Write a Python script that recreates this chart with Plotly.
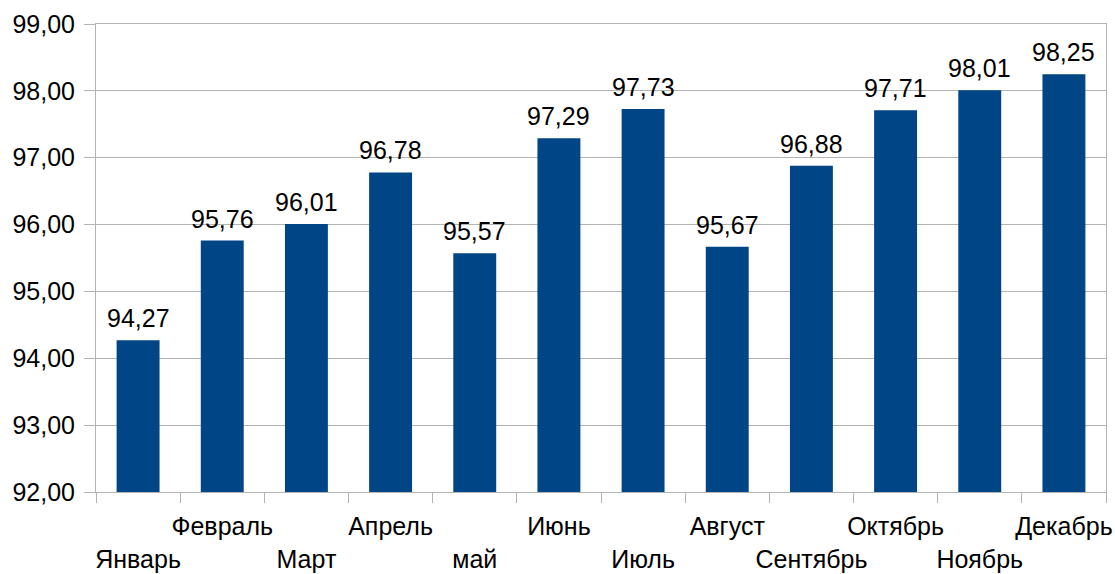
import plotly.graph_objects as go

months = ["Январь", "Февраль", "Март", "Апрель", "май", "Июнь", "Июль",
          "Август", "Сентябрь", "Октябрь", "Ноябрь", "Декабрь"]
values = [94.27, 95.76, 96.01, 96.78, 95.57, 97.29, 97.73, 95.67, 96.88, 97.71, 98.01, 98.25]
y_ticks = [92, 93, 94, 95, 96, 97, 98, 99]

tick_text = [("<br>" + m) if i % 2 == 0 else (m + "<br> ") for i, m in enumerate(months)]

FONT = "Liberation Sans, Arial, sans-serif"
GRID = "#b3b3b3"
FS = 25

fig = go.Figure(go.Bar(
    x=months, y=values,
    marker=dict(color="#004586", line=dict(width=0)),
    cliponaxis=False,
    hoverinfo="skip",
))

for m, v in zip(months, values):
    fig.add_annotation(
        x=m, y=v, xref="x", yref="y",
        text=f"{v:.2f}".replace(".", ","),
        showarrow=False, yanchor="bottom", xanchor="center", yshift=6,
        font=dict(family=FONT, size=FS, color="#000000"),
    )

fig.update_layout(
    width=1115, height=574,
    margin=dict(l=96, r=9, t=24, b=82),
    plot_bgcolor="white", paper_bgcolor="white",
    separators=", ",
    bargap=0.49,
    showlegend=False,
    font=dict(family=FONT, size=FS, color="#000000"),
)
fig.update_xaxes(
    tickmode="array", tickvals=months, ticktext=tick_text, tickangle=0,
    tickson="boundaries", ticks="outside", ticklen=10, tickcolor=GRID,
    ticklabelstandoff=12,
    showgrid=False, showline=True, linecolor=GRID, linewidth=1, mirror=True,
    automargin=False,
    tickfont=dict(family=FONT, size=FS, color="#000000"),
)
fig.update_yaxes(
    range=[92, 99], tickvals=y_ticks, tickformat=".2f",
    ticks="outside", ticklen=11, tickcolor=GRID, ticklabelstandoff=4,
    showgrid=True, gridcolor=GRID, gridwidth=1,
    showline=True, linecolor=GRID, linewidth=1, mirror=True,
    zeroline=False, automargin=False,
    tickfont=dict(family=FONT, size=FS, color="#000000"),
)

fig.write_html(
    "out.html",
    config={"displayModeBar": False},
    post_script="document.body.style.margin='0';document.body.style.overflow='hidden';",
)
